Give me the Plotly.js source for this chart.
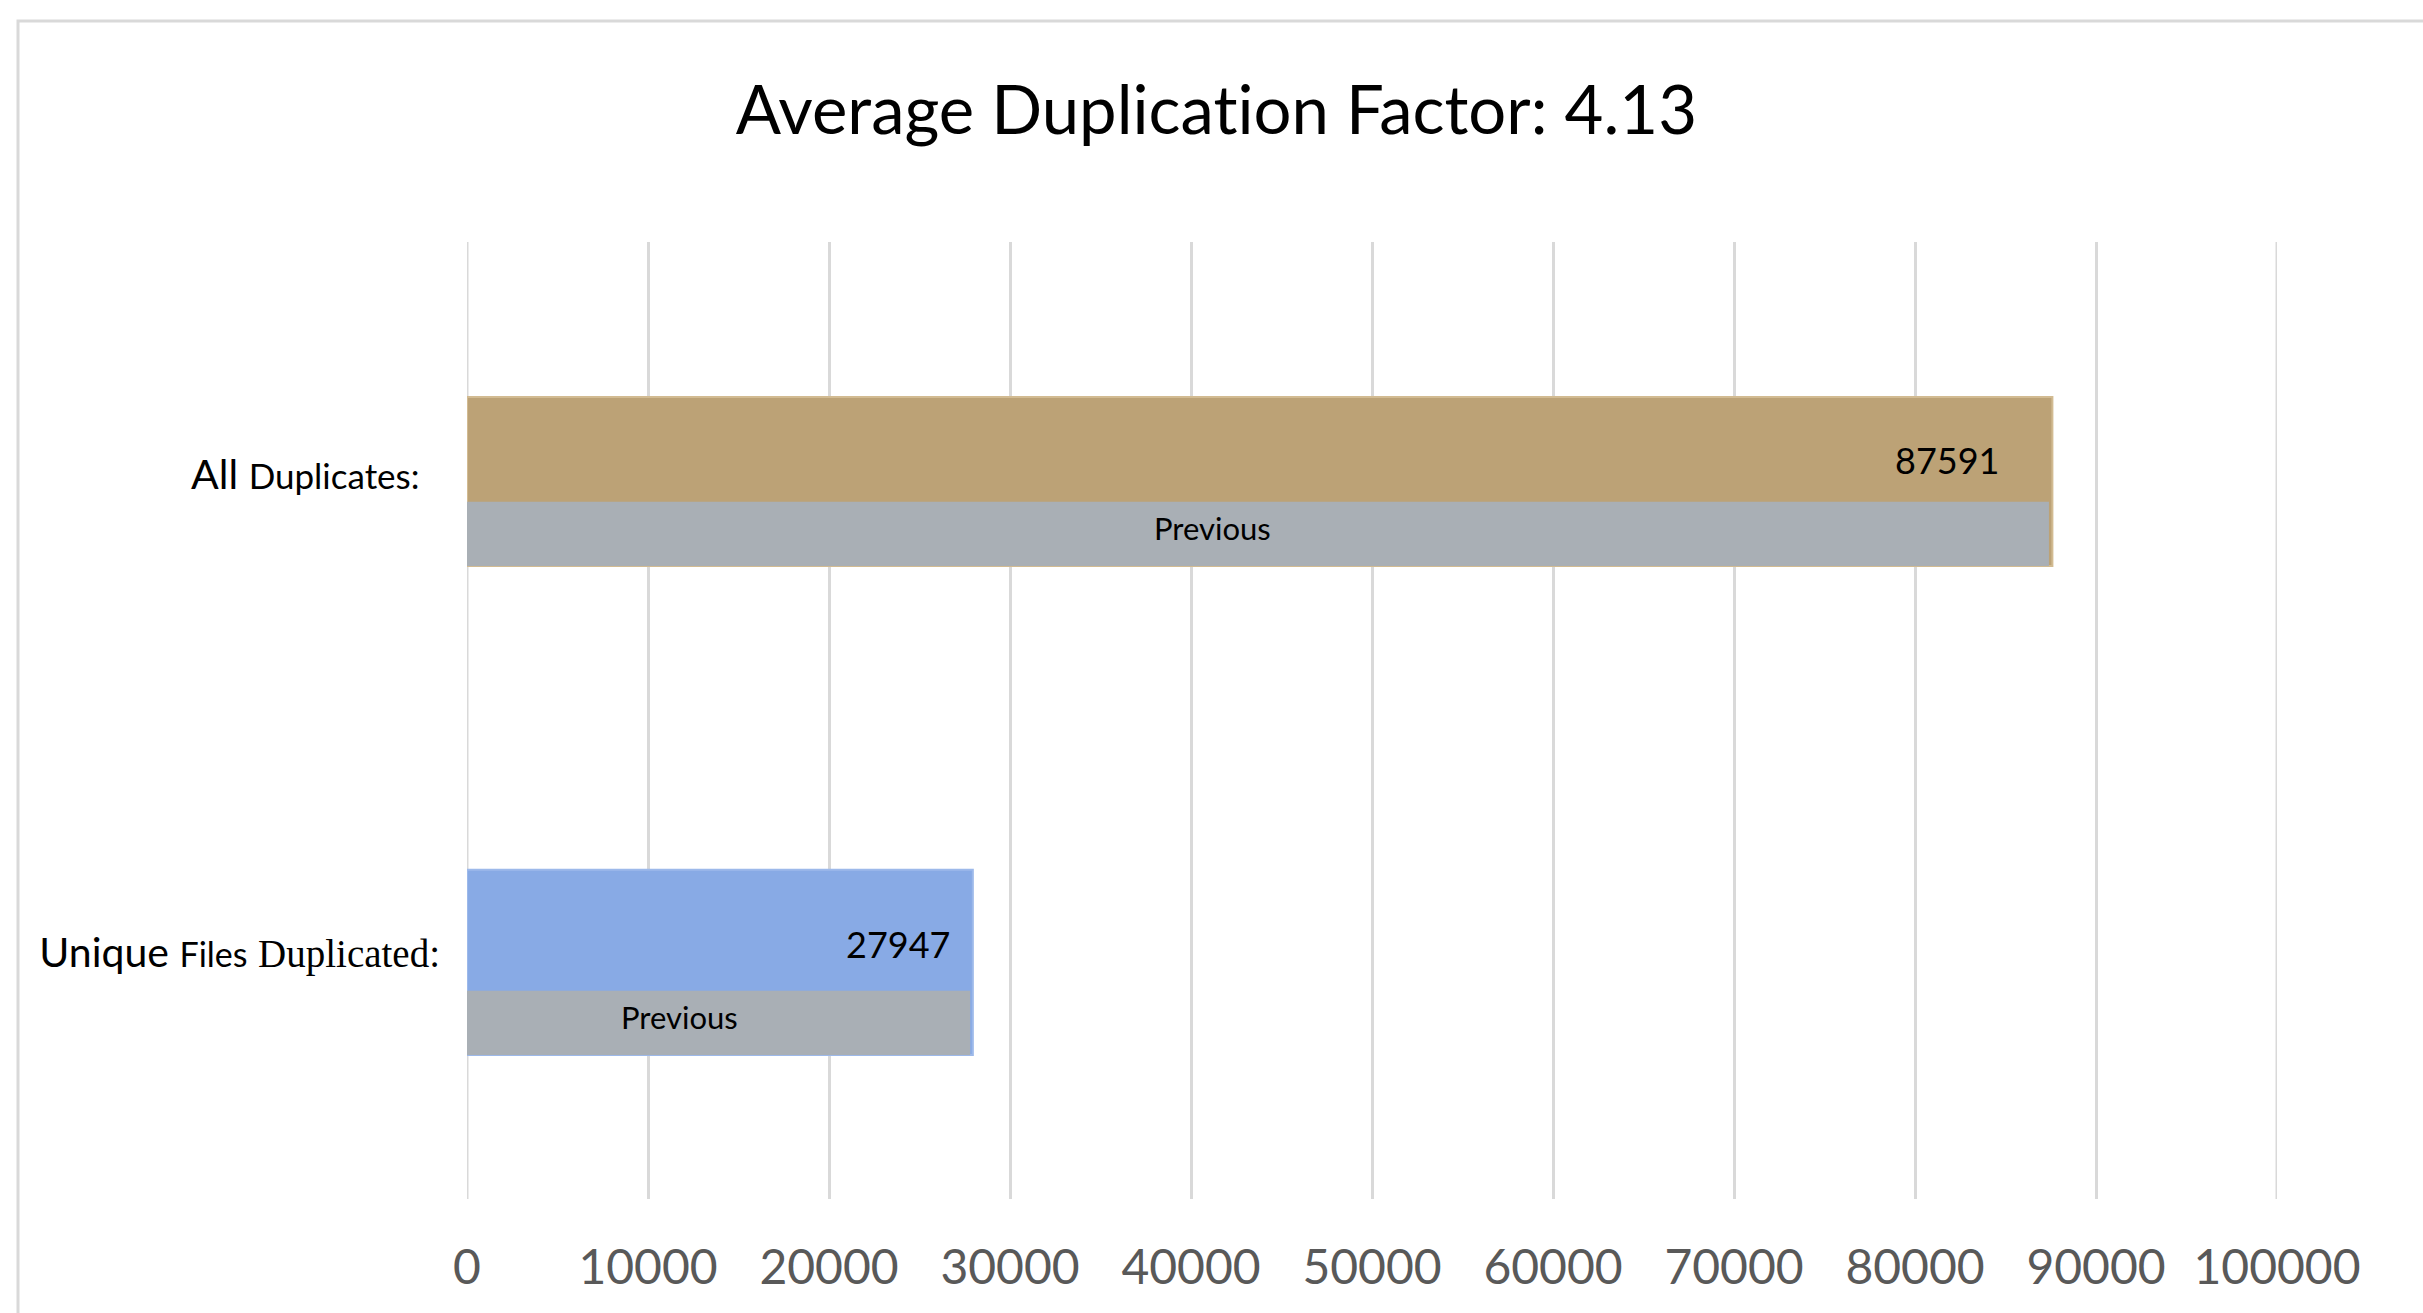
<!DOCTYPE html>
<html>
<head>
<meta charset="utf-8">
<script src="https://cdn.plot.ly/plotly-3.0.1.min.js"></script>
<style>
  html, body { margin: 0; padding: 0; background: #ffffff; }
  #chart { width: 2423px; height: 1313px; }
  #chart text { font-variant-ligatures: none; font-feature-settings: "liga" 0, "clig" 0; }
</style>
</head>
<body>
<div id="chart"></div>
<script>
// ---- data ----
const categories = ['Unique Files Duplicated:', 'All Duplicates:'];
const currentValues = [27947, 87591];
const previousValues = [27800, 87400];
const previousLabel = 'Previous';
const categoryTickText = [
  'Unique <span style="font-size:34px">Files</span> <span style="font-family:\'Liberation Serif\';font-size:39px">Duplicated:</span>',
  'All <span style="font-size:35px">Duplicates:</span>\u2002'
];
const xTickValues = [0, 10000, 20000, 30000, 40000, 50000, 60000, 70000, 80000, 90000, 100000];
const xTickLabels = ['0', '10000', '20000', '30000', '40000', '50000', '60000', '70000', '80000', '90000', '100000'];
const chartTitle = 'Average Duplication Factor: 4.13';

// ---- styles ----
const currentColors = ['#88aae5', '#bca276'];
const currentLineColors = ['#9db9ea', '#d2bb92'];
const previousColor = '#a9afb5';
const currentWidths = [0.387, 0.353];
const currentOffsets = [-0.199, -0.177];
const previousWidths = [0.134, 0.134];
const previousOffsets = [-0.199, -0.177];
const valueLabelShift = [{x: -21, y: 16}, {x: -51, y: 21}];
const prevLabelShift = [{x: -39, y: -57}, {x: -45, y: -47}];

const traces = [
  {
    type: 'bar', orientation: 'h',
    y: categories, x: currentValues,
    width: currentWidths, offset: currentOffsets,
    marker: { color: currentColors, line: { color: currentLineColors, width: 2 } },
    hoverinfo: 'x+y', showlegend: false
  },
  {
    type: 'bar', orientation: 'h',
    y: categories, x: previousValues,
    width: previousWidths, offset: previousOffsets,
    marker: { color: previousColor, line: { width: 0 } },
    hoverinfo: 'x+y', showlegend: false
  }
];

const annotations = [];
categories.forEach((c, i) => {
  annotations.push({
    x: currentValues[i], y: c, xref: 'x', yref: 'y',
    text: String(currentValues[i]), showarrow: false,
    xanchor: 'right', yanchor: 'middle',
    xshift: valueLabelShift[i].x, yshift: valueLabelShift[i].y,
    font: { family: 'Lato', size: 36, color: '#000000' }
  });
  annotations.push({
    x: previousValues[i] / 2, y: c, xref: 'x', yref: 'y',
    text: previousLabel, showarrow: false,
    xanchor: 'center', yanchor: 'middle',
    xshift: prevLabelShift[i].x, yshift: prevLabelShift[i].y,
    font: { family: 'Lato', size: 31, color: '#000000' }
  });
});

// gridlines at the range edges (Plotly omits grid lines that sit on the plot edge)
const edgeGrid = [xTickValues[0], xTickValues[xTickValues.length - 1]].map(v => ({
  type: 'line', xref: 'x', yref: 'paper', x0: v, x1: v, y0: 0, y1: 1,
  line: { color: '#d9d9d9', width: 3 }, layer: 'below'
}));

const layout = {
  width: 2423, height: 1313,
  paper_bgcolor: '#ffffff', plot_bgcolor: '#ffffff',
  margin: { l: 467, r: 146, t: 242, b: 114, pad: 0 },
  barmode: 'overlay',
  title: {
    text: chartTitle,
    font: { family: 'Lato', size: 67, color: '#000000' },
    x: 0.502, xref: 'container', xanchor: 'center',
    y: 1 - 111 / 1313, yref: 'container', yanchor: 'middle'
  },
  xaxis: {
    range: [0, 100000],
    tickmode: 'array', tickvals: xTickValues, ticktext: xTickLabels,
    showgrid: true, gridcolor: '#d9d9d9', gridwidth: 3,
    zeroline: false, showline: false, ticks: '',
    ticklabelstandoff: 36,
    tickfont: { family: 'Lato', size: 48, color: '#595959' },
    fixedrange: true
  },
  yaxis: {
    type: 'category',
    categoryorder: 'array', categoryarray: categories,
    range: [-0.5, 1.5],
    tickmode: 'array', tickvals: categories, ticktext: categoryTickText,
    showgrid: false, zeroline: false, showline: false, ticks: '',
    ticklabelstandoff: 26,
    ticklabelshift: -7,
    tickfont: { family: 'Lato', size: 41, color: '#000000' },
    fixedrange: true
  },
  annotations: annotations,
  shapes: edgeGrid.concat([
    {
      type: 'rect', xref: 'paper', yref: 'paper',
      x0: (18 - 467) / 1810, x1: 1.2,
      y0: -0.3, y1: (1199 - 21) / 957,
      line: { color: '#d9d9d9', width: 3 },
      fillcolor: 'rgba(0,0,0,0)', layer: 'below'
    }
  ])
};

Plotly.newPlot('chart', traces, layout, { displayModeBar: false, staticPlot: true });
</script>
</body>
</html>
